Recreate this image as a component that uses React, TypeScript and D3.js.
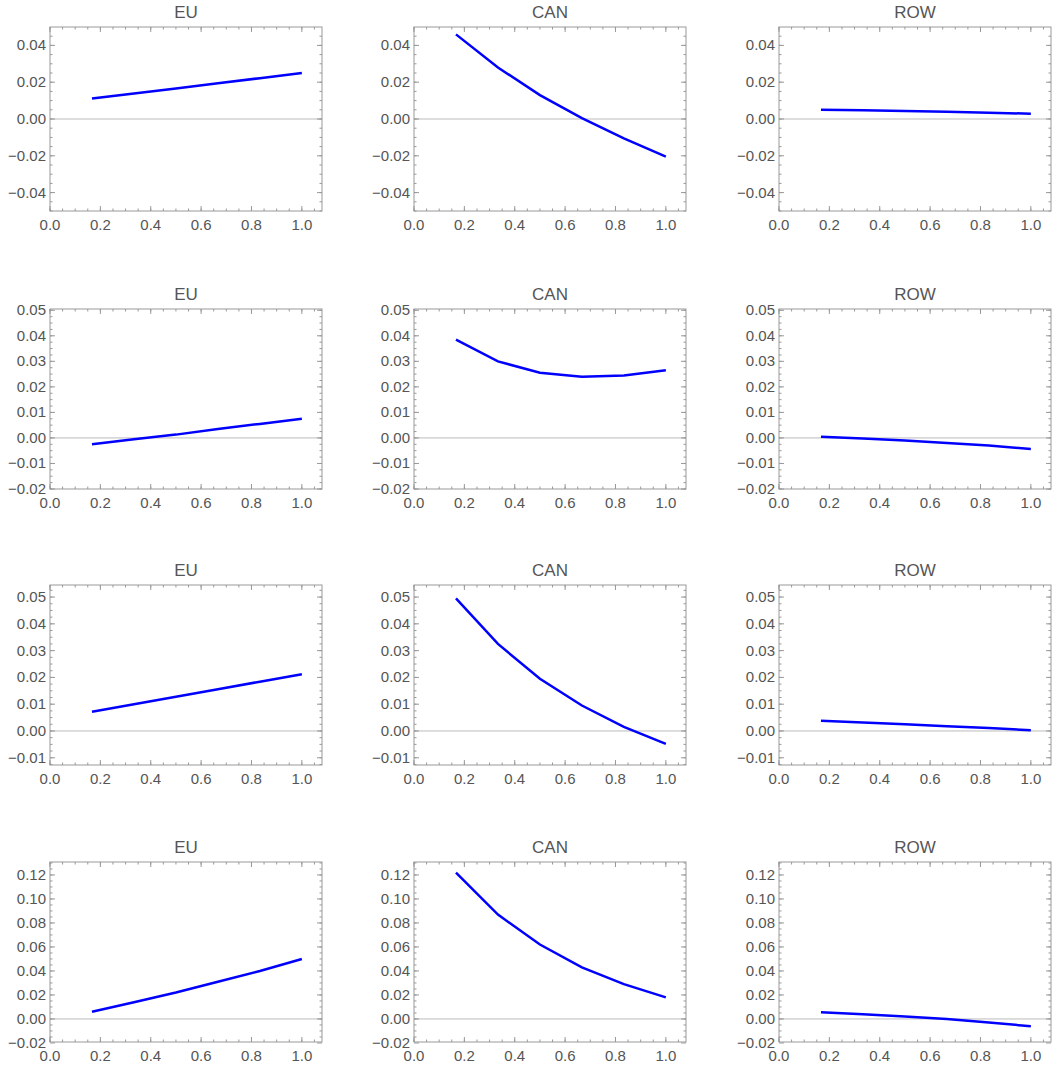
import * as React from 'react';
import * as d3 from 'd3';

const xs = [1 / 6, 2 / 6, 3 / 6, 4 / 6, 5 / 6, 1];
const titles = ['EU', 'CAN', 'ROW'];

const rowSeries: number[][][] = [
  [
    [0.0112, 0.0139, 0.0166, 0.0194, 0.0222, 0.025],
    [0.046, 0.028, 0.013, 0.0005, -0.0105, -0.0205],
    [0.005, 0.0047, 0.0043, 0.0039, 0.0034, 0.0029],
  ],
  [
    [-0.0025, -0.0005, 0.0013, 0.0035, 0.0055, 0.0075],
    [0.0385, 0.03, 0.0255, 0.024, 0.0245, 0.0265],
    [0.0005, -0.0002, -0.001, -0.002, -0.003, -0.0043],
  ],
  [
    [0.0072, 0.01, 0.0128, 0.0156, 0.0184, 0.0212],
    [0.0495, 0.0325, 0.0195, 0.0095, 0.0015, -0.0048],
    [0.0038, 0.0032, 0.0025, 0.0018, 0.0011, 0.0003],
  ],
  [
    [0.006, 0.014, 0.022, 0.031, 0.04, 0.05],
    [0.122, 0.087, 0.062, 0.043, 0.029, 0.018],
    [0.0055, 0.004, 0.002, 0.0, -0.003, -0.006],
  ],
];

const rowDomains: [number, number][] = [[-0.05, 0.05], [-0.02, 0.0505], [-0.0127, 0.0545], [-0.0192, 0.1308]];
const rowTicks: number[][] = [
  [-0.04, -0.02, 0, 0.02, 0.04],
  [-0.02, -0.01, 0, 0.01, 0.02, 0.03, 0.04, 0.05],
  [-0.01, 0, 0.01, 0.02, 0.03, 0.04, 0.05],
  [-0.02, 0, 0.02, 0.04, 0.06, 0.08, 0.1, 0.12],
];
const rowMinorStep = [0.005, 0.0025, 0.0025, 0.005];
const xTicks = [0, 0.2, 0.4, 0.6, 0.8, 1.0];

const colLeft = [50, 414, 779];
const rowTop = [27, 309, 585, 862];
const rowBottom = [211, 489, 765, 1042];
const plotW = 272;
const grey = '#555';
const frame = '#999';

const fmt = (v: number) => d3.format('.2f')(v).replace('-', '\u2212');

const Panel = ({ r, c }: { r: number; c: number }) => {
  const x0 = colLeft[c];
  const top = rowTop[r];
  const bottom = rowBottom[r];
  const x = d3.scaleLinear().domain([0, 1.08]).range([x0, x0 + plotW]);
  const y = d3.scaleLinear().domain(rowDomains[r]).range([bottom, top]);
  const data = rowSeries[r][c];
  const line = d3.line<number>().x((_, i) => x(xs[i])).y((d) => y(d));
  const xMinor = d3.range(0, 1.08, 0.05);
  const [lo, hi] = rowDomains[r];
  const st = rowMinorStep[r];
  const yMinor = d3.range(Math.ceil(lo / st) * st, hi, st);
  return (
    <g>
      <text x={x0 + plotW / 2} y={top - 9} textAnchor="middle" fontSize={17} fill={grey}>{titles[c]}</text>
      <line x1={x0} x2={x0 + plotW} y1={y(0)} y2={y(0)} stroke="#bbb" strokeWidth={1} />
      <rect x={x0} y={top} width={plotW} height={bottom - top} fill="none" stroke={frame} strokeWidth={1} />
      {xMinor.map((v, i) => (
        <g key={'xm' + i} stroke={frame}>
          <line x1={x(v)} x2={x(v)} y1={bottom} y2={bottom - 2.5} />
          <line x1={x(v)} x2={x(v)} y1={top} y2={top + 2.5} />
        </g>
      ))}
      {xTicks.map((v) => (
        <g key={'x' + v}>
          <line x1={x(v)} x2={x(v)} y1={bottom} y2={bottom - 5} stroke={frame} />
          <line x1={x(v)} x2={x(v)} y1={top} y2={top + 5} stroke={frame} />
          <text x={x(v)} y={bottom + 19} textAnchor="middle" fontSize={15} fill={grey}>{d3.format('.1f')(v)}</text>
        </g>
      ))}
      {yMinor.map((v, i) => (
        <g key={'ym' + i} stroke={frame}>
          <line x1={x0} x2={x0 + 2.5} y1={y(v)} y2={y(v)} />
          <line x1={x0 + plotW} x2={x0 + plotW - 2.5} y1={y(v)} y2={y(v)} />
        </g>
      ))}
      {rowTicks[r].map((v) => (
        <g key={'y' + v}>
          <line x1={x0} x2={x0 + 5} y1={y(v)} y2={y(v)} stroke={frame} />
          <line x1={x0 + plotW} x2={x0 + plotW - 5} y1={y(v)} y2={y(v)} stroke={frame} />
          <text x={x0 - 4} y={y(v) + 5} textAnchor="end" fontSize={15} fill={grey}>{fmt(v)}</text>
        </g>
      ))}
      <path d={line(data) || ''} fill="none" stroke="#0000ff" strokeWidth={2.5} />
    </g>
  );
};

export default function App() {
  return (
    <svg width={1053} height={1066} style={{ position: 'absolute', left: 0, top: 0, fontFamily: 'Liberation Sans, Arial, sans-serif' }}>
      <rect width={1053} height={1066} fill="white" />
      {[0, 1, 2, 3].map((r) => [0, 1, 2].map((c) => <Panel key={r + '-' + c} r={r} c={c} />))}
    </svg>
  );
}
